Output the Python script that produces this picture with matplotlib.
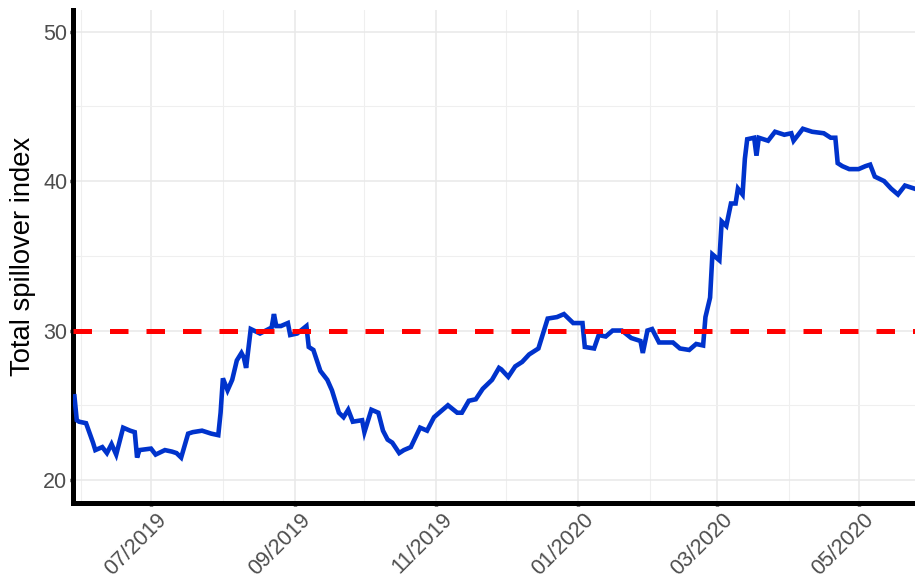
import matplotlib
matplotlib.use("Agg")
import matplotlib.pyplot as plt
import matplotlib.dates as mdates
import matplotlib.transforms as mtransforms
import pandas as pd

# total spillover index
dates = [
    "2019-05-29", "2019-05-30", "2019-05-31", "2019-06-03", "2019-06-06", "2019-06-07",
    "2019-06-10", "2019-06-12", "2019-06-14", "2019-06-16", "2019-06-19", "2019-06-22",
    "2019-06-24", "2019-06-25", "2019-06-26", "2019-07-01", "2019-07-03", "2019-07-07",
    "2019-07-10", "2019-07-12", "2019-07-14", "2019-07-17", "2019-07-19", "2019-07-23",
    "2019-07-27", "2019-07-30", "2019-07-31", "2019-08-01", "2019-08-03", "2019-08-05",
    "2019-08-07", "2019-08-09", "2019-08-10", "2019-08-11", "2019-08-13", "2019-08-17",
    "2019-08-22", "2019-08-23", "2019-08-24", "2019-08-26", "2019-08-29", "2019-08-30",
    "2019-09-02", "2019-09-06", "2019-09-07", "2019-09-09", "2019-09-12", "2019-09-15",
    "2019-09-17", "2019-09-20", "2019-09-22", "2019-09-24", "2019-09-26", "2019-09-30",
    "2019-10-01", "2019-10-04", "2019-10-07", "2019-10-09", "2019-10-11", "2019-10-13",
    "2019-10-16", "2019-10-18", "2019-10-21", "2019-10-25", "2019-10-28", "2019-10-31",
    "2019-11-03", "2019-11-06", "2019-11-10", "2019-11-12", "2019-11-15", "2019-11-18",
    "2019-11-21", "2019-11-25", "2019-11-28", "2019-11-29", "2019-12-02", "2019-12-05",
    "2019-12-08", "2019-12-11", "2019-12-12", "2019-12-15", "2019-12-17", "2019-12-19",
    "2019-12-23", "2019-12-26", "2019-12-30", "2020-01-03", "2020-01-04", "2020-01-08",
    "2020-01-10", "2020-01-13", "2020-01-16", "2020-01-20", "2020-01-24", "2020-01-28",
    "2020-01-29", "2020-01-31", "2020-02-02", "2020-02-05", "2020-02-11", "2020-02-14",
    "2020-02-18", "2020-02-21", "2020-02-24", "2020-02-25", "2020-02-27", "2020-02-28",
    "2020-03-02", "2020-03-03", "2020-03-05", "2020-03-07", "2020-03-09", "2020-03-10",
    "2020-03-12", "2020-03-13", "2020-03-14", "2020-03-17", "2020-03-18", "2020-03-19",
    "2020-03-23", "2020-03-26", "2020-03-30", "2020-04-02", "2020-04-03", "2020-04-07",
    "2020-04-11", "2020-04-16", "2020-04-19", "2020-04-21", "2020-04-22", "2020-04-24",
    "2020-04-27", "2020-05-01", "2020-05-04", "2020-05-06", "2020-05-08", "2020-05-12",
    "2020-05-15", "2020-05-18", "2020-05-21", "2020-05-25",
]
spillover = [
    25.6, 24.0, 23.9, 23.8, 22.5, 22.0,
    22.2, 21.8, 22.4, 21.7, 23.5, 23.3,
    23.2, 21.5, 22.0, 22.1, 21.7, 22.0,
    21.9, 21.8, 21.5, 23.1, 23.2, 23.3,
    23.1, 23.0, 24.5, 26.8, 26.0, 26.7,
    28.0, 28.5, 28.2, 27.5, 30.1, 29.8,
    30.2, 31.1, 30.3, 30.3, 30.5, 29.7,
    29.8, 30.3, 28.9, 28.7, 27.3, 26.7,
    26.0, 24.5, 24.2, 24.7, 23.9, 24.0,
    23.2, 24.7, 24.5, 23.3, 22.7, 22.5,
    21.8, 22.0, 22.2, 23.5, 23.3, 24.2,
    24.6, 25.0, 24.5, 24.5, 25.3, 25.4,
    26.1, 26.7, 27.5, 27.4, 26.9, 27.6,
    27.9, 28.4, 28.5, 28.8, 29.8, 30.8,
    30.9, 31.1, 30.5, 30.5, 28.9, 28.8,
    29.7, 29.6, 30.0, 30.0, 29.5, 29.3,
    28.5, 30.0, 30.1, 29.2, 29.2, 28.8,
    28.7, 29.1, 29.0, 30.9, 32.2, 35.1,
    34.7, 37.3, 37.0, 38.5, 38.5, 39.5,
    39.1, 41.5, 42.8, 42.9, 41.7, 42.9,
    42.7, 43.3, 43.1, 43.2, 42.7, 43.5,
    43.3, 43.2, 42.9, 42.9, 41.2, 41.0,
    40.8, 40.8, 41.0, 41.1, 40.3, 40.0,
    39.5, 39.1, 39.7, 39.5,
]
threshold = 30

df = pd.DataFrame({"date": pd.to_datetime(dates), "tsi": spillover})

fig = plt.figure(figsize=(9.15, 5.84), dpi=100)
ax = fig.add_axes([0.0803, 0.1387, 0.9197, 0.844])

ax.plot(df["date"], df["tsi"], color="#0033CC", linewidth=3.3,
        solid_joinstyle="miter", zorder=3)
ax.axhline(threshold, color="#FF0000", linewidth=3.6, linestyle=(0, (3.7, 3.6)), zorder=4)

ax.set_xlim(pd.Timestamp("2019-05-28 14:00"), pd.Timestamp("2020-05-25 08:00"))
ax.set_ylim(18.46, 51.44)

ax.set_yticks([20, 30, 40, 50])
ax.set_yticks([25, 35, 45], minor=True)
ax.xaxis.set_major_locator(mdates.MonthLocator(bymonth=[1, 3, 5, 7, 9, 11]))
ax.xaxis.set_minor_locator(mdates.MonthLocator(bymonth=[2, 4, 6, 8, 10, 12]))
ax.xaxis.set_major_formatter(mdates.DateFormatter("%m/%Y"))

ax.grid(which="major", color="#E8E8E8", linewidth=1.1)
ax.grid(which="minor", color="#EFEFEF", linewidth=0.8)
ax.set_axisbelow(True)

for side in ["top", "right"]:
    ax.spines[side].set_visible(False)
for side in ["left", "bottom"]:
    ax.spines[side].set_linewidth(3.6)
    ax.spines[side].set_color("black")

ax.tick_params(which="major", length=2.5, width=2.5, color="black",
               labelsize=15.5, labelcolor="#4D4D4D", pad=2)
ax.tick_params(which="minor", length=0)

# ggplot-style 45 degree labels, nudged a little to the right
shift = mtransforms.ScaledTranslation(5 / 100, 0, fig.dpi_scale_trans)
for lab in ax.get_xticklabels():
    lab.set_rotation(45)
    lab.set_ha("right")
    lab.set_rotation_mode("anchor")
    lab.set_transform(lab.get_transform() + shift)

ax.set_ylabel("Total spillover index", fontsize=19.7, color="black", labelpad=5)

for t in ax.get_xticklabels() + ax.get_yticklabels():
    t.set_family("Liberation Sans")
ax.yaxis.label.set_family("Liberation Sans")

fig.savefig("out.png", dpi=100)
